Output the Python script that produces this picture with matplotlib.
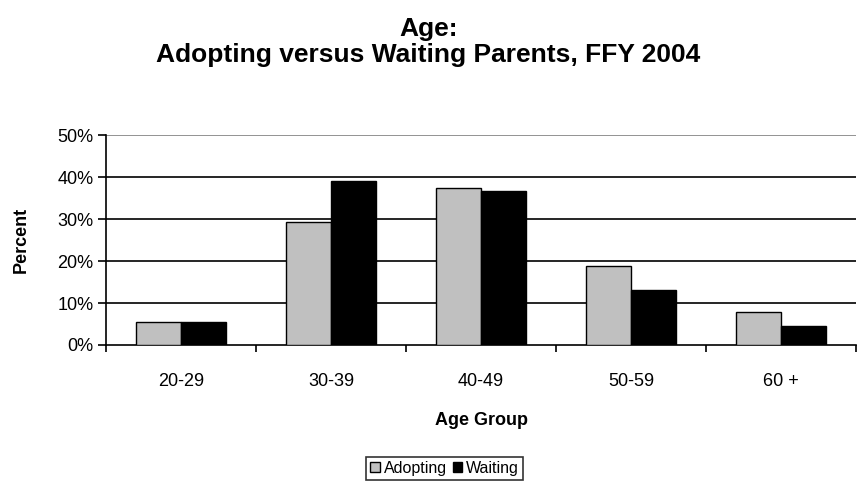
import numpy as np
import matplotlib.pyplot as plt
from matplotlib.ticker import PercentFormatter

plt.rcParams['font.family'] = ['Liberation Sans', 'DejaVu Sans']

groups = ["20-29", "30-39", "40-49", "50-59", "60 +"]
adopting = [5.4, 29.4, 37.4, 18.8, 7.8]
waiting = [5.4, 39.0, 36.6, 13.1, 4.6]

fig = plt.figure(figsize=(8.57, 5.04), dpi=100)
ax = fig.add_axes([0.1237, 0.3155, 0.8753, 0.4165])

x = np.arange(len(groups))
w = 0.3
ax.bar(x - w/2, adopting, w, color="#c0c0c0", edgecolor="black", linewidth=1, label="Adopting", zorder=3)
ax.bar(x + w/2, waiting, w, color="black", edgecolor="black", linewidth=1, label="Waiting", zorder=3)

ax.set_xlim(-0.5, len(groups) - 0.5)
ax.set_ylim(0, 50)
ax.set_yticks(np.arange(0, 51, 10))
ax.yaxis.set_major_formatter(PercentFormatter(decimals=0))
for y in range(10, 50, 10):
    ax.axhline(y, color="black", linewidth=1.2, zorder=1)
ax.axhline(50, color="#808080", linewidth=1.2, zorder=1)

ax.set_xticks(x)
ax.set_xticklabels(groups)
ax.set_xticks(np.arange(-0.5, len(groups)), minor=True)
ax.tick_params(axis="x", which="major", length=0, pad=20, labelsize=13)
ax.tick_params(axis="x", which="minor", length=5, width=1.2, direction="out")
ax.tick_params(axis="y", length=6, width=1.2, direction="out", labelsize=13, pad=3)

for s in ["top", "right"]:
    ax.spines[s].set_visible(False)
ax.spines["left"].set_linewidth(1.2)
ax.spines["bottom"].set_linewidth(1.2)

ax.set_xlabel("Age Group", fontsize=13, fontweight="bold", labelpad=16)
ax.set_ylabel("Percent", fontsize=13, fontweight="bold", labelpad=20)

fig.suptitle("Age:\nAdopting versus Waiting Parents, FFY 2004", x=0.5, y=0.966,
             fontsize=19, fontweight="bold", linespacing=1.1)

leg = fig.legend(loc="center", bbox_to_anchor=(0.519, 0.071), ncol=2, frameon=True,
                 fancybox=False, edgecolor="black", fontsize=11.5, handlelength=0.6,
                 handleheight=0.6, handletextpad=0.25, columnspacing=0.35,
                 borderpad=0.25, borderaxespad=0)
leg.get_frame().set_linewidth(1.2)

fig.savefig("out.png", dpi=100)
